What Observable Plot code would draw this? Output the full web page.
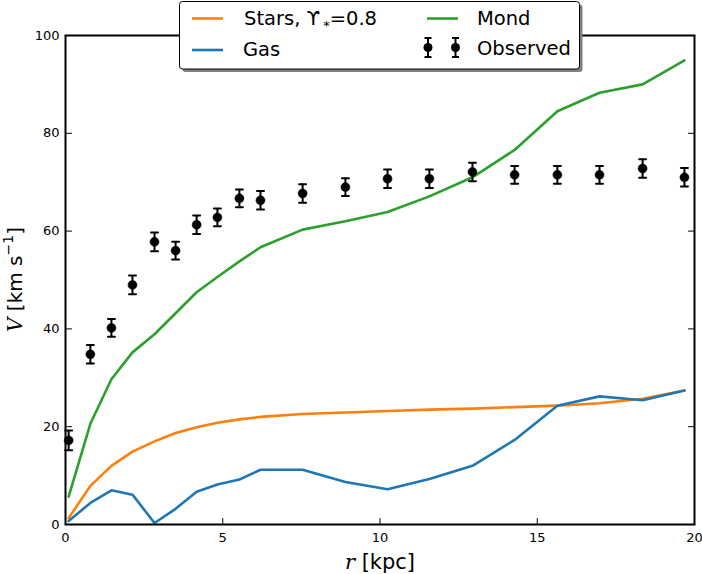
<!DOCTYPE html>
<html>
<head>
<meta charset="utf-8">
<script src="https://cdn.jsdelivr.net/npm/d3@7"></script>
<script src="https://cdn.jsdelivr.net/npm/@observablehq/plot@0.6"></script>
<style>
  html, body { margin: 0; padding: 0; background: #fff; }
  #chart { position: relative; width: 702px; height: 574px; }
</style>
</head>
<body>
<div id="chart"></div>
<script>
// Radii (kpc)
const radius = [0.1, 0.79, 1.46, 2.13, 2.83, 3.5, 4.17, 4.83, 5.53, 6.2, 7.54, 8.9, 10.24, 11.57, 12.94, 14.28, 15.64, 16.98, 18.35, 19.68];
// Observed rotation velocities and errors (km/s)
const vObserved = [17.2, 34.8, 40.2, 49.0, 57.8, 56.0, 61.3, 62.8, 66.7, 66.3, 67.7, 69.0, 70.7, 70.7, 72.1, 71.5, 71.5, 71.5, 72.8, 71.0];
const vError = [2.0, 1.9, 1.8, 1.9, 1.9, 1.8, 1.9, 1.8, 1.8, 1.9, 1.9, 1.8, 1.9, 1.9, 1.9, 1.8, 1.8, 1.8, 1.9, 1.9];
// Model components
const vStars = [1.3, 7.9, 12.0, 14.9, 17.0, 18.7, 19.9, 20.8, 21.5, 22.0, 22.6, 22.9, 23.2, 23.5, 23.7, 24.0, 24.3, 24.8, 25.7, 27.4];
const vGas = [0.7, 4.4, 7.0, 6.1, 0.3, 3.2, 6.7, 8.2, 9.2, 11.2, 11.2, 8.7, 7.2, 9.3, 12.0, 17.3, 24.3, 26.2, 25.4, 27.4];
const vMond = [5.7, 20.6, 29.7, 35.2, 38.9, 43.2, 47.5, 50.6, 53.8, 56.7, 60.3, 62.0, 63.9, 67.1, 71.0, 76.6, 84.5, 88.3, 90.0, 94.9];
// Axis ticks
const xTicks = [0, 5, 10, 15, 20];
const yTicks = [0, 20, 40, 60, 80, 100];

const colors = {stars: "#ff7f0e", gas: "#1f77b4", mond: "#2ca02c"};

const obs = radius.map((r, i) => ({r, v: vObserved[i], e: vError[i]}));
const lineData = (vals) => radius.map((r, i) => ({r, v: vals[i]}));

const tickShape = {draw(ctx, l) { ctx.moveTo(0, 0); ctx.lineTo(0, -l); }};
const capShape = {draw(ctx, l) { ctx.moveTo(-l / 2, 0); ctx.lineTo(l / 2, 0); }};

const tickOpts = {length: 6, anchor: "start", shape: tickShape, stroke: "black", strokeWidth: 1};

const chart = Plot.plot({
  width: 702,
  height: 574,
  marginTop: 35,
  marginLeft: 65,
  marginRight: 8,
  marginBottom: 50,
  style: {fontFamily: "'DejaVu Sans', sans-serif", background: "#fff", color: "black"},
  x: {domain: [0, 20]},
  y: {domain: [0, 100]},
  marks: [
    Plot.axisX({ticks: xTicks, tickSize: 0, tickPadding: 8, fontSize: 13, label: null}),
    Plot.axisY({ticks: yTicks, tickSize: 0, tickPadding: 6, fontSize: 13, label: null}),
    Plot.vector(xTicks, {x: d => d, frameAnchor: "bottom", rotate: 0, ...tickOpts}),
    Plot.vector(xTicks, {x: d => d, frameAnchor: "top", rotate: 180, ...tickOpts}),
    Plot.vector(yTicks, {y: d => d, frameAnchor: "left", rotate: 90, ...tickOpts}),
    Plot.vector(yTicks, {y: d => d, frameAnchor: "right", rotate: -90, ...tickOpts}),
    Plot.line(lineData(vStars), {x: "r", y: "v", stroke: colors.stars, strokeWidth: 2.6}),
    Plot.line(lineData(vGas), {x: "r", y: "v", stroke: colors.gas, strokeWidth: 2.6}),
    Plot.line(lineData(vMond), {x: "r", y: "v", stroke: colors.mond, strokeWidth: 2.6}),
    Plot.ruleX(obs, {x: "r", y1: d => d.v - d.e, y2: d => d.v + d.e, stroke: "black", strokeWidth: 2}),
    Plot.vector(obs, {x: "r", y: d => d.v + d.e, length: 7, anchor: "start", rotate: 0, shape: capShape, stroke: "black", strokeWidth: 2}),
    Plot.vector(obs, {x: "r", y: d => d.v - d.e, length: 7, anchor: "start", rotate: 0, shape: capShape, stroke: "black", strokeWidth: 2}),
    Plot.dot(obs, {x: "r", y: "v", r: 4.5, fill: "black", stroke: "black", strokeWidth: 0.5}),
    Plot.frame({stroke: "black", strokeWidth: 2})
  ]
});

document.getElementById("chart").appendChild(chart);

const svg = d3.select(chart);

// Axis labels
const xl = svg.append("text")
  .attr("x", 380).attr("y", 569)
  .attr("text-anchor", "middle")
  .attr("font-size", 21)
  .attr("fill", "black");
xl.append("tspan").attr("font-family", "'DejaVu Serif', serif").attr("font-style", "italic").text("r");
xl.append("tspan").attr("font-family", "'DejaVu Sans', sans-serif").text(" [kpc]");

const yl = svg.append("text")
  .attr("transform", "translate(22,279.5) rotate(-90)")
  .attr("text-anchor", "middle")
  .attr("font-size", 20)
  .attr("fill", "black");
yl.append("tspan").attr("font-family", "'DejaVu Serif', serif").attr("font-style", "italic").text("V");
yl.append("tspan").attr("font-family", "'DejaVu Sans', sans-serif").text(" [km s");
yl.append("tspan").attr("font-family", "'DejaVu Sans', sans-serif").attr("font-size", 14).attr("dy", -9).text("−1");
yl.append("tspan").attr("font-family", "'DejaVu Sans', sans-serif").attr("dy", 9).text("]");

// Legend
const lg = svg.append("g")
  .attr("font-family", "'DejaVu Sans', sans-serif")
  .attr("font-size", 19.5)
  .attr("text-anchor", "start");
lg.append("rect").attr("x", 182.5).attr("y", 4.5).attr("width", 400).attr("height", 67.5).attr("rx", 3).attr("fill", "#808080");
lg.append("rect").attr("x", 179.5).attr("y", 1.5).attr("width", 400).attr("height", 67.5).attr("rx", 3).attr("fill", "white").attr("stroke", "black").attr("stroke-width", 1);

lg.append("line").attr("x1", 192).attr("x2", 223).attr("y1", 18.5).attr("y2", 18.5).attr("stroke", colors.stars).attr("stroke-width", 2.6);
lg.append("line").attr("x1", 192).attr("x2", 223).attr("y1", 50).attr("y2", 50).attr("stroke", colors.gas).attr("stroke-width", 2.6);
lg.append("line").attr("x1", 427).attr("x2", 458).attr("y1", 18.5).attr("y2", 18.5).attr("stroke", colors.mond).attr("stroke-width", 2.6);

[428, 455.5].forEach(cx => {
  lg.append("line").attr("x1", cx).attr("x2", cx).attr("y1", 38).attr("y2", 57).attr("stroke", "black").attr("stroke-width", 2);
  lg.append("line").attr("x1", cx - 3.5).attr("x2", cx + 3.5).attr("y1", 38).attr("y2", 38).attr("stroke", "black").attr("stroke-width", 2);
  lg.append("line").attr("x1", cx - 3.5).attr("x2", cx + 3.5).attr("y1", 57).attr("y2", 57).attr("stroke", "black").attr("stroke-width", 2);
  lg.append("circle").attr("cx", cx).attr("cy", 47.5).attr("r", 4.5).attr("fill", "black");
});

const st = lg.append("text").attr("x", 244).attr("y", 25).attr("fill", "black");
st.append("tspan").text("Stars, ϒ");
st.append("tspan").attr("font-size", 13).attr("dx", 3).attr("dy", 5).text("*");
st.append("tspan").attr("dy", -5).text("=0.8");
lg.append("text").attr("x", 243).attr("y", 56).attr("fill", "black").text("Gas");
lg.append("text").attr("x", 477).attr("y", 25).attr("fill", "black").text("Mond");
lg.append("text").attr("x", 477).attr("y", 55).attr("fill", "black").text("Observed");
</script>
</body>
</html>
